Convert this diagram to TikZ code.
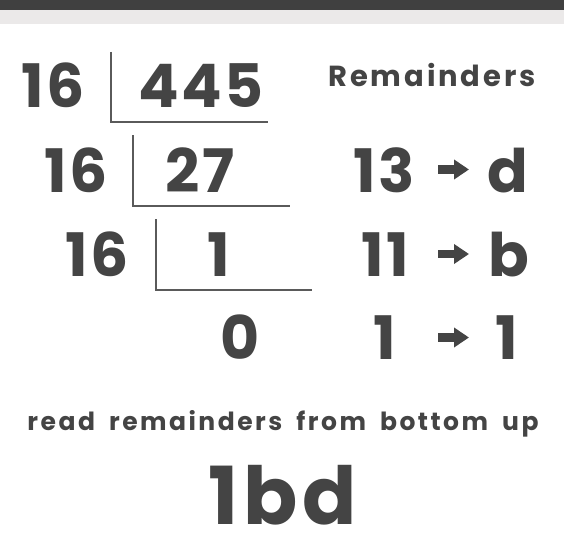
\documentclass[tikz,border=0pt]{standalone}
\usepackage{fontspec}
\setmainfont{Poppins}
\newfontfamily\notefont{Poppins}[LetterSpace=10,WordSpace=1.8]
\usetikzlibrary{arrows.meta}
\definecolor{ink}{RGB}{68,68,68}
\definecolor{rule}{RGB}{90,90,90}
\definecolor{topbar}{RGB}{64,64,64}
\definecolor{band}{RGB}{235,233,233}
\tikzset{
  big/.style={anchor=base,inner sep=0pt,text=ink,font=\fontsize{60}{60}\selectfont\bfseries\addfontfeatures{LetterSpace=4}},
  huge/.style={anchor=base,inner sep=0pt,text=ink,font=\fontsize{80}{80}\selectfont\bfseries\addfontfeatures{LetterSpace=6}},
  label/.style={anchor=base,inner sep=0pt,text=ink,font=\fontsize{29}{29}\selectfont\bfseries\addfontfeatures{LetterSpace=10}},
  note/.style={anchor=base,inner sep=0pt,text=ink,font=\notefont\fontsize{25}{25}\selectfont\bfseries},
  divline/.style={draw=rule,line width=1.4pt},
  maparrow/.style={draw=ink,line width=8.5pt,-{Triangle[length=15pt,width=19pt]}}
}
\begin{document}
\begin{tikzpicture}[x=1pt,y=-1pt]
\useasboundingbox (0,0) rectangle (576,535);
\fill[white] (0,0) rectangle (576,535);
\fill[band] (0,10) rectangle (564,24);
\fill[topbar] (0,0) rectangle (564,10);

% row 1
\node[big] (d1) at (53,107) {16};
\node[big] (n1) at (201,107) {445};
\node[label] (rem) at (432,87) {Remainders};
\coordinate (v1t) at (111,52);
\coordinate (v1b) at (111,122);
\coordinate (h1e) at (268,122);
\draw[divline] (v1t) -- (v1b) -- (h1e);

% row 2
\node[big] (d2) at (76,192) {16};
\node[big] (n2) at (200,192) {27};
\node[big] (r2) at (384.5,192) {13};
\node[big] (x2) at (507.5,192) {d};
\coordinate (v2t) at (133,135);
\coordinate (v2b) at (133,206);
\coordinate (h2e) at (290,206);
\draw[divline] (v2t) -- (v2b) -- (h2e);
\coordinate (a2s) at (438,169.5);
\coordinate (a2e) at (469,169.5);
\draw[maparrow] (a2s) -- (a2e);

% row 3
\node[big] (d3) at (97.5,276) {16};
\node[big] (n3) at (218.5,276) {1};
\node[big] (r3) at (385,276) {11};
\node[big] (x3) at (508.5,276) {b};
\coordinate (v3t) at (156,219);
\coordinate (v3b) at (156,290);
\coordinate (h3e) at (312,290);
\draw[divline] (v3t) -- (v3b) -- (h3e);
\coordinate (a3s) at (438,254);
\coordinate (a3e) at (469,254);
\draw[maparrow] (a3s) -- (a3e);

% row 4
\node[big] (n4) at (240.5,359) {0};
\node[big] (r4) at (385,359) {1};
\node[big] (x4) at (507,359) {1};
\coordinate (a4s) at (438,337.5);
\coordinate (a4e) at (469,337.5);
\draw[maparrow] (a4s) -- (a4e);

% bottom
\node[note] (read) at (283,430) {read remainders from bottom up};
\node[huge] (res) at (283,524) {1bd};
\end{tikzpicture}
\end{document}
